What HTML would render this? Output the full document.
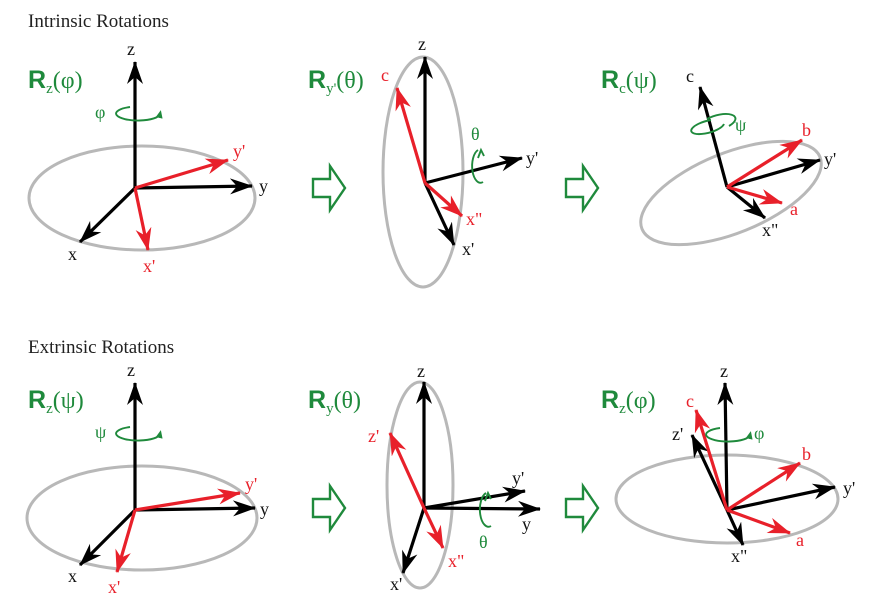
<!DOCTYPE html>
<html><head><meta charset="utf-8"><style>
html,body{margin:0;padding:0;background:#fff;}
svg{display:block;}
.t{font-family:"Liberation Serif",serif;}
.bk{stroke:#000;stroke-width:3.2;fill:none;}
.rd{stroke:#e8202a;stroke-width:3.2;fill:none;}
.el{stroke:#b8b8b8;stroke-width:3;fill:none;}
.gr{stroke:#1f8a3c;stroke-width:1.9;fill:none;}
.lbk{font-family:"Liberation Serif",serif;font-size:18px;fill:#111;}
.lrd{font-family:"Liberation Serif",serif;font-size:18px;fill:#e8202a;}
.lgr{font-family:"Liberation Serif",serif;font-size:18px;fill:#1f8a3c;}
.R{font-family:"Liberation Sans",sans-serif;font-weight:bold;font-size:25px;fill:#1f8a3c;}
.Rp{font-family:"Liberation Serif",serif;font-size:24px;fill:#1f8a3c;}
.sub{font-family:"Liberation Serif",serif;font-size:15px;fill:#1f8a3c;}
</style></head><body>
<svg width="874" height="612" viewBox="0 0 874 612">
<defs>
<marker id="ab" markerUnits="userSpaceOnUse" markerWidth="26" markerHeight="18" refX="22" refY="8" orient="auto"><path d="M0,0 L23,8 L0,16 L7,8 z" fill="#000"/></marker>
<marker id="ar" markerUnits="userSpaceOnUse" markerWidth="26" markerHeight="18" refX="22" refY="8" orient="auto"><path d="M0,0 L23,8 L0,16 L7,8 z" fill="#e8202a"/></marker>
<marker id="ag" markerUnits="userSpaceOnUse" markerWidth="9" markerHeight="9" refX="4" refY="3.5" orient="auto"><path d="M0,0 L8,3.5 L0,7 z" fill="#1f8a3c"/></marker>
</defs>

<text x="28" y="27" class="t" font-size="19" fill="#222">Intrinsic Rotations</text>
<text x="28" y="353" class="t" font-size="19" fill="#222">Extrinsic Rotations</text>

<g>
<ellipse cx="142" cy="198" rx="113" ry="52" class="el"/>
<text x="28" y="88"><tspan class="R">R</tspan><tspan class="sub" dy="5">z</tspan><tspan class="Rp" dy="-5">(φ)</tspan></text>
<line x1="135" y1="188" x2="135" y2="62" class="bk" marker-end="url(#ab)"/>
<line x1="135" y1="188" x2="252" y2="186" class="bk" marker-end="url(#ab)"/>
<line x1="135" y1="188" x2="80" y2="242" class="bk" marker-end="url(#ab)"/>
<line x1="135" y1="188" x2="228" y2="160" class="rd" marker-end="url(#ar)"/>
<line x1="135" y1="188" x2="148" y2="250" class="rd" marker-end="url(#ar)"/>
<path d="M130,107 A22,7 0 1 0 160,114" class="gr" marker-end="url(#ag)"/>
<text x="95" y="118" class="lgr">φ</text>
<text x="127" y="55" class="lbk">z</text>
<text x="259" y="192" class="lbk">y</text>
<text x="68" y="260" class="lbk">x</text>
<text x="233" y="157" class="lrd">y'</text>
<text x="143" y="272" class="lrd">x'</text>
</g>

<path d="M313,179 H330 V166 L345,188 L330,210 V197 H313 Z" fill="none" stroke="#1f8a3c" stroke-width="2.4"/>
<path d="M566,179 H583 V166 L598,188 L583,210 V197 H566 Z" fill="none" stroke="#1f8a3c" stroke-width="2.4"/>
<path d="M313,499 H330 V486 L345,508 L330,530 V517 H313 Z" fill="none" stroke="#1f8a3c" stroke-width="2.4"/>
<path d="M566,499 H583 V486 L598,508 L583,530 V517 H566 Z" fill="none" stroke="#1f8a3c" stroke-width="2.4"/>

<g>
<ellipse cx="423" cy="172" rx="40" ry="115" class="el"/>
<text x="308" y="88"><tspan class="R">R</tspan><tspan class="sub" dy="5">y'</tspan><tspan class="Rp" dy="-5">(θ)</tspan></text>
<line x1="425" y1="183" x2="425" y2="57" class="bk" marker-end="url(#ab)"/>
<line x1="425" y1="183" x2="522" y2="158" class="bk" marker-end="url(#ab)"/>
<line x1="425" y1="183" x2="454" y2="245" class="bk" marker-end="url(#ab)"/>
<line x1="425" y1="183" x2="397" y2="88" class="rd" marker-end="url(#ar)"/>
<line x1="425" y1="183" x2="462" y2="216" class="rd" marker-end="url(#ar)"/>
<path d="M478,150 A8,16 0 1 0 483,182" class="gr"/><path d="M478,158 L481,150 L484,156" class="gr"/>
<text x="471" y="140" class="lgr">θ</text>
<text x="418" y="50" class="lbk">z</text>
<text x="526" y="164" class="lbk">y'</text>
<text x="462" y="255" class="lbk">x'</text>
<text x="381" y="81" class="lrd">c</text>
<text x="466" y="225" class="lrd">x"</text>
</g>

<g>
<ellipse cx="731" cy="193" rx="96" ry="40" transform="rotate(-22 731 193)" class="el"/>
<text x="601" y="88"><tspan class="R">R</tspan><tspan class="sub" dy="5">c</tspan><tspan class="Rp" dy="-5">(ψ)</tspan></text>
<line x1="727" y1="187" x2="700" y2="87" class="bk" marker-end="url(#ab)"/>
<line x1="727" y1="187" x2="820" y2="160" class="bk" marker-end="url(#ab)"/>
<line x1="727" y1="187" x2="765" y2="218" class="bk" marker-end="url(#ab)"/>
<line x1="727" y1="187" x2="802" y2="140" class="rd" marker-end="url(#ar)"/>
<line x1="727" y1="187" x2="782" y2="203" class="rd" marker-end="url(#ar)"/>
<path d="M711,120 A17,6 -15 1 0 724,124" class="gr"/>
<path d="M707,119 A17,7 -15 0 1 729,126" class="gr"/>
<text x="735" y="131" class="lgr">ψ</text>
<text x="686" y="82" class="lbk">c</text>
<text x="824" y="165" class="lbk">y'</text>
<text x="762" y="236" class="lbk">x"</text>
<text x="802" y="136" class="lrd">b</text>
<text x="790" y="215" class="lrd">a</text>
</g>

<g>
<ellipse cx="142" cy="518" rx="115" ry="52" class="el"/>
<text x="28" y="408"><tspan class="R">R</tspan><tspan class="sub" dy="5">z</tspan><tspan class="Rp" dy="-5">(ψ)</tspan></text>
<line x1="135" y1="510" x2="135" y2="383" class="bk" marker-end="url(#ab)"/>
<line x1="135" y1="510" x2="255" y2="508" class="bk" marker-end="url(#ab)"/>
<line x1="135" y1="510" x2="80" y2="565" class="bk" marker-end="url(#ab)"/>
<line x1="135" y1="510" x2="240" y2="493" class="rd" marker-end="url(#ar)"/>
<line x1="135" y1="510" x2="117" y2="572" class="rd" marker-end="url(#ar)"/>
<path d="M130,427 A22,7 0 1 0 160,434" class="gr" marker-end="url(#ag)"/>
<text x="95" y="438" class="lgr">ψ</text>
<text x="127" y="376" class="lbk">z</text>
<text x="260" y="515" class="lbk">y</text>
<text x="68" y="582" class="lbk">x</text>
<text x="245" y="490" class="lrd">y'</text>
<text x="108" y="593" class="lrd">x'</text>
</g>

<g>
<ellipse cx="420" cy="485" rx="33" ry="103" class="el"/>
<text x="308" y="408"><tspan class="R">R</tspan><tspan class="sub" dy="5">y</tspan><tspan class="Rp" dy="-5">(θ)</tspan></text>
<line x1="424" y1="508" x2="424" y2="382" class="bk" marker-end="url(#ab)"/>
<line x1="424" y1="508" x2="540" y2="509" class="bk" marker-end="url(#ab)"/>
<line x1="424" y1="508" x2="525" y2="491" class="bk" marker-end="url(#ab)"/>
<line x1="424" y1="508" x2="403" y2="573" class="bk" marker-end="url(#ab)"/>
<line x1="424" y1="508" x2="390" y2="433" class="rd" marker-end="url(#ar)"/>
<line x1="424" y1="508" x2="443" y2="548" class="rd" marker-end="url(#ar)"/>
<path d="M486,493 A8,16 0 1 0 491,526" class="gr"/><path d="M485,501 L488,493 L491,499" class="gr"/>
<text x="479" y="548" class="lgr">θ</text>
<text x="417" y="377" class="lbk">z</text>
<text x="522" y="530" class="lbk">y</text>
<text x="512" y="484" class="lbk">y'</text>
<text x="390" y="590" class="lbk">x'</text>
<text x="368" y="442" class="lrd">z'</text>
<text x="448" y="567" class="lrd">x"</text>
</g>

<g>
<ellipse cx="727" cy="499" rx="111" ry="44" class="el"/>
<text x="601" y="408"><tspan class="R">R</tspan><tspan class="sub" dy="5">z</tspan><tspan class="Rp" dy="-5">(φ)</tspan></text>
<line x1="727" y1="510" x2="725" y2="383" class="bk" marker-end="url(#ab)"/>
<line x1="727" y1="510" x2="692" y2="435" class="bk" marker-end="url(#ab)"/>
<line x1="727" y1="510" x2="835" y2="487" class="bk" marker-end="url(#ab)"/>
<line x1="727" y1="510" x2="743" y2="545" class="bk" marker-end="url(#ab)"/>
<line x1="727" y1="510" x2="696" y2="410" class="rd" marker-end="url(#ar)"/>
<line x1="727" y1="510" x2="800" y2="463" class="rd" marker-end="url(#ar)"/>
<line x1="727" y1="510" x2="790" y2="533" class="rd" marker-end="url(#ar)"/>
<path d="M720,428 A22,7 0 1 0 750,435" class="gr" marker-end="url(#ag)"/>
<text x="754" y="439" class="lgr">φ</text>
<text x="720" y="377" class="lbk">z</text>
<text x="672" y="440" class="lbk">z'</text>
<text x="843" y="494" class="lbk">y'</text>
<text x="731" y="562" class="lbk">x"</text>
<text x="686" y="407" class="lrd">c</text>
<text x="802" y="460" class="lrd">b</text>
<text x="796" y="546" class="lrd">a</text>
</g>
</svg>
</body></html>
